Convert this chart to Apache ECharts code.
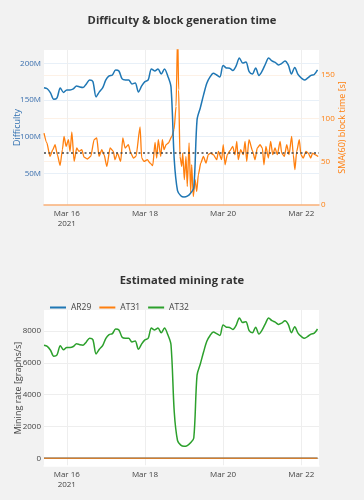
<!DOCTYPE html>
<html>
<head>
<meta charset="utf-8">
<script src="https://cdn.jsdelivr.net/npm/echarts@6/dist/echarts.min.js"></script>
<style>
html,body{margin:0;padding:0;background:#f2f2f2;}
#c{width:364px;height:500px;}
</style>
</head>
<body>
<div id="c"></div>
<script>
// ---- data ----
const startTime = Date.UTC(2021, 2, 15, 10, 0);
const stepHours = 2;
const tickDates = [Date.UTC(2021,2,16), Date.UTC(2021,2,18), Date.UTC(2021,2,20), Date.UTC(2021,2,22)];
const difficultyTicks = [50, 100, 150, 200];
const blockTimeTicks = [0, 50, 100, 150];
const rateTicks = [0, 2000, 4000, 6000, 8000];
const targetBlockTime = 60;

// Difficulty (millions), every 2 hours
const difficulty = [167.0,165.5,159.8,151.0,153.0,166.6,160.5,163.9,163.9,165.3,169.3,168.0,167.3,172.1,177.5,175.5,154.4,161.2,166.6,177.5,
183.0,184.3,191.2,189.8,178.9,177.5,177.5,172.1,173.4,161.2,169.3,175.2,177.5,192.5,189.8,192.5,185.7,192.5,183.0,168.0,
68.5,26.3,19.5,17.7,18.8,22.9,30.0,123.0,139.4,157.1,173.0,181.6,186.6,184.3,181.6,197.3,193.9,193.5,190.5,196.6,
207.5,200.7,202.0,188.8,185.7,193.9,183.7,189.8,199.3,207.5,203.4,201.4,198.0,200.0,203.4,198.0,185.7,194.6,185.0,180.2,
177.5,180.2,183.7,185.0,191.2];

// SMA(60) block time: hours after start, seconds
const blockTimeHours = [0,1.7,3.7,5.4,6.8,8.2,9.9,11.3,12.3,13.6,15.0,16.0,17.1,18.5,20.1,21.5,23.2,24.6,26.6,28.7,
30.8,32.4,33.8,35.5,36.9,38.6,40.6,42.6,43.6,45.1,47.1,48.4,49.8,51.8,53.3,54.9,56.5,59.0,60.0,61.4,
63.5,65.1,66.8,68.2,69.2,70.2,71.7,72.7,73.7,75.0,76.4,78.5,79.9,81.1,82.1,82.7,83.5,84.6,85.2,86.2,
87.2,88.0,89.1,90.1,90.7,91.7,92.8,93.8,94.8,96.3,97.9,99.5,100.9,102.4,104.0,106.1,107.1,109.1,110.1,111.2,
112.6,114.2,115.9,117.3,118.4,119.3,120.8,122.4,123.5,124.5,125.9,128.2,129.6,131.0,132.7,134.1,135.1,136.3,137.8,139.2,
140.5,141.9,143.3,145.0,146.0,147.6,149.1,150.5,152.1,153.1,154.1,155.2,156.8,157.8,159.2,160.9,162.3,163.8,165.0,166.4,168.4];
const blockTime = [83.1,71.9,56.1,63.9,69.6,58.1,45.7,63.9,79.2,67.7,75.4,61.9,84.3,50.3,65.8,61.9,63.9,55.4,53.1,56.1,
75.4,77.4,56.1,63.9,58.1,44.6,65.8,61.9,52.3,60.0,50.3,77.4,65.8,69.6,60.0,54.3,56.1,90.1,54.3,50.3,
52.3,48.5,45.4,72.3,54.3,75.4,56.1,75.4,63.9,69.6,71.6,79.2,87.0,113.9,200,133,56.1,44.6,60.0,29.2,
56.1,21.5,71.6,13.9,46.5,9.9,29.2,15.7,35.0,48.5,56.1,48.5,58.1,60.0,58.1,52.3,61.9,52.3,69.6,46.5,
58.1,62.7,67.7,58.1,73.4,52.3,63.9,58.1,73.4,50.3,75.4,61.9,52.3,65.8,69.6,65.8,46.5,67.7,54.3,73.4,
58.1,65.8,58.1,73.4,60.0,56.1,69.6,58.1,79.2,58.1,40.8,61.9,75.4,58.1,54.3,61.9,60.0,54.3,60.0,58.1,56.1];

// Estimated mining rate [graphs/s], every 2 hours
const rateAR29 = new Array(85).fill(0);
const rateAT31 = new Array(85).fill(0);
const rateAT32 = [7098,7034,6792,6418,6503,7081,6821,6966,6966,7025,7195,7140,7110,7314,7544,7459,6562,6851,7081,7544,
7778,7833,8126,8067,7603,7544,7544,7314,7370,6851,7195,7446,7544,8181,8067,8181,7892,8181,7778,7140,
2911,1118,829,752,799,973,1275,5228,5925,6677,7353,7718,7931,7833,7718,8385,8241,8224,8096,8356,
8819,8530,8585,8024,7892,8241,7807,8067,8470,8819,8645,8560,8415,8500,8645,8415,7892,8271,7863,7659,
7544,7659,7807,7863,8126];

// ---- build ----
const H = 3600 * 1000;
const t2 = i => startTime + i * stepHours * H;
const diffData = difficulty.map((v, i) => [t2(i), v]);
const btData = blockTime.map((v, i) => [startTime + blockTimeHours[i] * H, v]);
const mk = arr => arr.map((v, i) => [t2(i), v]);

const xMin = startTime, xMax = Date.UTC(2021, 2, 22, 10, 54);
const FONT = 'Open Sans';
const xLabelFmt = v => { const d = new Date(v); return 'Mar ' + d.getUTCDate() + (d.getUTCDate() === 16 ? '\n2021' : ''); };

function xAxisCfg(gridIndex, lineColor) {
  return {
    type: 'value', gridIndex, min: xMin, max: xMax,
    axisLine: { show: true, onZero: false, lineStyle: { color: lineColor, width: 1.5 } },
    axisTick: { show: false, customValues: tickDates },
    axisLabel: { customValues: tickDates, formatter: xLabelFmt, color: '#444', fontSize: 8, fontFamily: FONT, margin: 4, lineHeight: 10 },
    splitLine: { show: true, lineStyle: { color: '#eeeeee', width: 1 } }
  };
}

const chart = echarts.init(document.getElementById('c'), null, { renderer: 'canvas' });
chart.setOption({
  backgroundColor: '#f2f2f2',
  animation: false,
  title: [
    { text: 'Difficulty & block generation time', left: 'center', top: 10, textStyle: { fontSize: 11.2, fontWeight: 'bold', color: '#333', fontFamily: FONT } },
    { text: 'Estimated mining rate', left: 'center', top: 270, textStyle: { fontSize: 11.2, fontWeight: 'bold', color: '#333', fontFamily: FONT } }
  ],
  legend: {
    data: ['AR29', 'AT31', 'AT32'], left: 45, top: 298, itemWidth: 16, itemHeight: 2, itemGap: 8,
    icon: 'rect', textStyle: { fontSize: 8.5, color: '#444', fontFamily: FONT }
  },
  grid: [
    { left: 44, right: 45, top: 50, height: 155, show: true, backgroundColor: '#ffffff', borderWidth: 0 },
    { left: 44, right: 45, top: 310, height: 156, show: true, backgroundColor: '#ffffff', borderWidth: 0 }
  ],
  xAxis: [xAxisCfg(0, '#f7b07a'), xAxisCfg(1, '#ffffff')],
  yAxis: [
    {
      type: 'value', gridIndex: 0, min: 6.8, max: 218.4, position: 'left',
      name: 'Difficulty', nameLocation: 'middle', nameGap: 22, nameMoveOverlap: false,
      nameTextStyle: { color: '#2f6fb0', fontSize: 9, fontFamily: FONT },
      axisLine: { show: false }, axisTick: { show: false, customValues: difficultyTicks },
      axisLabel: { customValues: difficultyTicks, formatter: v => v + 'M', color: '#3a6fae', fontSize: 8, fontFamily: FONT, margin: 3 },
      splitLine: { show: true, lineStyle: { color: '#e8f0f8' } }
    },
    {
      type: 'value', gridIndex: 0, min: 0, max: 179, position: 'right',
      name: 'SMA(60) block time [s]', nameLocation: 'middle', nameGap: 19, nameMoveOverlap: false,
      nameTextStyle: { color: '#ff7f0e', fontSize: 9, fontFamily: FONT },
      axisLine: { show: false }, axisTick: { show: false, customValues: blockTimeTicks },
      axisLabel: { customValues: blockTimeTicks, color: '#ff7f0e', fontSize: 8, fontFamily: FONT, margin: 2 },
      splitLine: { show: true, lineStyle: { color: '#fdf1e6' } }
    },
    {
      type: 'value', gridIndex: 1, min: -484, max: 9320,
      name: 'Mining rate [graphs/s]', nameLocation: 'middle', nameGap: 21, nameMoveOverlap: false,
      nameTextStyle: { color: '#444', fontSize: 9, fontFamily: FONT },
      axisLine: { show: false }, axisTick: { show: false, customValues: rateTicks },
      axisLabel: { customValues: rateTicks, formatter: v => String(v), color: '#444', fontSize: 8, fontFamily: FONT, margin: 3 },
      splitLine: { show: true, lineStyle: { color: '#eeeeee' } }
    }
  ],
  series: [
    {
      name: 'Difficulty', type: 'line', xAxisIndex: 0, yAxisIndex: 0, data: diffData,
      showSymbol: false, smooth: 0.3, lineStyle: { color: '#1f77b4', width: 1.5 }, itemStyle: { color: '#1f77b4' }, z: 3
    },
    {
      name: 'SMA', type: 'line', xAxisIndex: 0, yAxisIndex: 1, data: btData,
      showSymbol: false, smooth: 0.2, smoothMonotone: 'x', lineStyle: { color: '#ff7f0e', width: 1.3 }, itemStyle: { color: '#ff7f0e' }, z: 2,
      markLine: {
        silent: true, symbol: 'none', label: { show: false },
        lineStyle: { color: '#444', type: [2, 2.5], width: 1.5 },
        data: [{ yAxis: targetBlockTime }]
      }
    },
    {
      name: 'AR29', type: 'line', xAxisIndex: 1, yAxisIndex: 2, data: mk(rateAR29),
      showSymbol: false, lineStyle: { color: '#1f77b4', width: 1.5 }, itemStyle: { color: '#1f77b4' }
    },
    {
      name: 'AT31', type: 'line', xAxisIndex: 1, yAxisIndex: 2, data: mk(rateAT31),
      showSymbol: false, lineStyle: { color: '#ff7f0e', width: 1.5, opacity: 0.8 }, itemStyle: { color: '#ff7f0e' }
    },
    {
      name: 'AT32', type: 'line', xAxisIndex: 1, yAxisIndex: 2, data: mk(rateAT32),
      showSymbol: false, smooth: 0.3, lineStyle: { color: '#2ca02c', width: 1.5 }, itemStyle: { color: '#2ca02c' }
    }
  ]
});
</script>
</body>
</html>
